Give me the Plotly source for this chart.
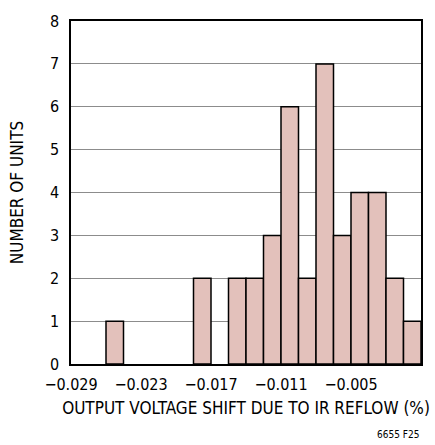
import plotly.graph_objects as go

# histogram bins: left edge of each bin (%), bin width 0.0015
bin_width = 0.0015
bin_left = [-0.026, -0.0185, -0.0155, -0.014, -0.0125, -0.011, -0.0095,
            -0.008, -0.0065, -0.005, -0.0035, -0.002, -0.0005]
counts = [1, 2, 2, 2, 3, 6, 2, 7, 3, 4, 4, 2, 1]

tick_vals = [-0.029, -0.023, -0.017, -0.011, -0.005]
tick_text = ['\u22120.029', '\u22120.023', '\u22120.017', '\u22120.011', '\u22120.005']

FONT = 'DejaVu Sans Condensed, Liberation Sans Narrow, sans-serif'

fig = go.Figure()
fig.add_trace(go.Bar(
    x=[b + bin_width / 2 for b in bin_left],
    y=counts,
    width=bin_width,
    marker=dict(color='#e3c1bb', line=dict(color='black', width=1.5)),
))

fig.update_layout(
    width=435, height=445,
    paper_bgcolor='white', plot_bgcolor='white',
    margin=dict(l=71, r=12, t=13, b=81),
    showlegend=False,
    font=dict(family=FONT, color='black', size=16),
    xaxis=dict(
        range=[-0.029, 0.001],
        tickvals=tick_vals, ticktext=tick_text,
        showgrid=False, zeroline=False, ticks='', ticklabelstandoff=5,
        showline=True, linecolor='black', linewidth=1.5, mirror=True,
        title=dict(text='OUTPUT VOLTAGE SHIFT DUE TO IR REFLOW (%)', standoff=9,
                   font=dict(size=17)),
        tickfont=dict(size=16),
    ),
    yaxis=dict(
        range=[0, 8], dtick=1,
        showgrid=True, gridcolor='#8c8c8c', gridwidth=1, zeroline=False, ticks='',
        ticklabelstandoff=7,
        showline=True, linecolor='black', linewidth=1.5, mirror=True,
        title=dict(text='NUMBER OF UNITS', standoff=22, font=dict(size=17)),
        tickfont=dict(size=16),
    ),
    annotations=[dict(
        text='6655 F25', xref='paper', yref='paper', x=1.0, y=-0.205,
        xanchor='right', yanchor='middle', showarrow=False,
        font=dict(size=10, family=FONT),
    )],
)

fig.write_html('out.html', config={'displayModeBar': False})

# drop the default body margin so the figure sits at the page corner
with open('out.html') as f:
    page = f.read()
with open('out.html', 'w') as f:
    f.write(page.replace('<body>', '<body style="margin:0">', 1))
